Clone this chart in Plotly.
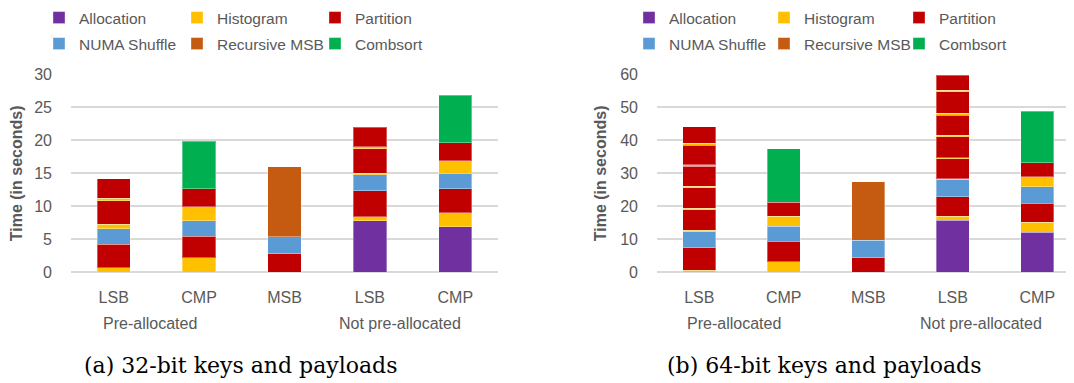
import plotly.graph_objects as go

# ---------------- data ----------------
POSITIONS = [0, 1, 2, 3, 4]
TICK_LABELS = ["LSB", "CMP", "MSB", "LSB", "CMP"]
GROUP_LABELS = ["Pre-allocated", "Not pre-allocated"]
CAPTIONS = ["(a) 32-bit keys and payloads", "(b) 64-bit keys and payloads"]

COLORS = {
    "Allocation": "#7030A0",
    "Histogram": "#FFC000",
    "Partition": "#C00000",
    "NUMA Shuffle": "#5B9BD5",
    "Recursive MSB": "#C55A11",
    "Combsort": "#00B050",
}

# (a) 32-bit keys and payloads -- segments stacked bottom to top
A_ALLOCATION = [None, None, None, 7.83, 6.92]
A_HISTOGRAM_1 = [0.66, 2.17, None, 0.61, 2.13]
A_PARTITION_1 = [3.59, 3.29, 2.78, 3.94, 3.64]
A_NUMA = [2.37, 2.37, 2.58, 2.38, 2.33]
A_HISTOGRAM_2 = [0.66, 2.13, None, 0.26, 1.87]
A_PARTITION_2 = [3.59, 2.73, None, 3.69, 2.73]
A_HISTOGRAM_3 = [0.33, None, None, 0.30, None]
A_PARTITION_3 = [3.00, None, None, 2.99, None]
A_RECURSIVE_MSB = [None, None, 10.62, None, None]
A_COMBSORT = [None, 7.19, None, None, 7.24]

# (b) 64-bit keys and payloads -- segments stacked bottom to top
B_ALLOCATION = [None, None, None, 15.74, 12.18]
B_HISTOGRAM_1 = [0.60, 3.25, None, 1.22, 2.95]
B_PARTITION_1 = [6.80, 6.10, 4.37, 5.89, 5.87]
B_NUMA = [4.87, 4.65, 5.38, 5.15, 5.00]
B_HISTOGRAM_2 = [0.53, 3.06, None, 0.40, 3.04]
B_PARTITION_2 = [6.10, 4.14, None, 6.00, 4.26]
B_HISTOGRAM_3 = [0.50, None, None, 0.40, None]
B_PARTITION_3 = [6.20, None, None, 6.30, None]
B_HISTOGRAM_4 = [0.50, None, None, 0.40, None]
B_PARTITION_4 = [6.10, None, None, 6.20, None]
B_HISTOGRAM_5 = [0.40, None, None, 0.50, None]
B_PARTITION_5 = [6.00, None, None, 6.60, None]
B_HISTOGRAM_6 = [0.60, None, None, 0.40, None]
B_PARTITION_6 = [4.90, None, None, 4.60, None]
B_RECURSIVE_MSB = [None, None, 17.65, None, None]
B_COMBSORT = [None, 16.30, None, None, 15.50]

PANEL_A = [
    ("Allocation", A_ALLOCATION), ("Histogram", A_HISTOGRAM_1), ("Partition", A_PARTITION_1),
    ("NUMA Shuffle", A_NUMA), ("Histogram", A_HISTOGRAM_2), ("Partition", A_PARTITION_2),
    ("Histogram", A_HISTOGRAM_3), ("Partition", A_PARTITION_3),
    ("Recursive MSB", A_RECURSIVE_MSB), ("Combsort", A_COMBSORT),
]
PANEL_B = [
    ("Allocation", B_ALLOCATION), ("Histogram", B_HISTOGRAM_1), ("Partition", B_PARTITION_1),
    ("NUMA Shuffle", B_NUMA), ("Histogram", B_HISTOGRAM_2), ("Partition", B_PARTITION_2),
    ("Histogram", B_HISTOGRAM_3), ("Partition", B_PARTITION_3),
    ("Histogram", B_HISTOGRAM_4), ("Partition", B_PARTITION_4),
    ("Histogram", B_HISTOGRAM_5), ("Partition", B_PARTITION_5),
    ("Histogram", B_HISTOGRAM_6), ("Partition", B_PARTITION_6),
    ("Recursive MSB", B_RECURSIVE_MSB), ("Combsort", B_COMBSORT),
]

ROW1 = {"Allocation", "Histogram", "Partition"}

# ---------------- figure ----------------
TEXT = "#595959"
GRID = "#d9d9d9"
FONT = "Liberation Sans"

fig = go.Figure()


def add_panel(segments, xa, ya, leg1, leg2):
    seen = set()
    for name, vals in segments:
        fig.add_trace(go.Bar(
            x=POSITIONS, y=vals, name=name,
            marker=dict(color=COLORS[name], line=dict(color="rgba(255,255,255,0.35)", width=1)),
            xaxis=xa, yaxis=ya,
            legend=leg1 if name in ROW1 else leg2,
            showlegend=name not in seen,
            legendgroup=xa + name,
            hoverinfo="name+y",
        ))
        seen.add(name)


add_panel(PANEL_A, "x", "y", "legend", "legend2")
add_panel(PANEL_B, "x2", "y2", "legend3", "legend4")

# page body has an 8px margin, so the figure is 8px smaller than the window
W, H = 1066, 375


def leg(x, y, ew):
    return dict(orientation="h", x=x, y=y, xanchor="left", yanchor="top",
                entrywidth=ew, entrywidthmode="pixels",
                font=dict(family=FONT, size=15.5, color=TEXT),
                bgcolor="rgba(0,0,0,0)", traceorder="normal",
                itemclick=False, itemdoubleclick=False)


xcommon = dict(tickmode="array", tickvals=POSITIONS, ticktext=TICK_LABELS,
               showgrid=False, zeroline=False, showline=False, ticks="",
               ticklabelstandoff=14, automargin=False,
               tickfont=dict(family=FONT, size=16, color=TEXT), fixedrange=True)
ycommon = dict(showgrid=True, gridcolor=GRID, gridwidth=1.5, zeroline=True,
               zerolinecolor=GRID, zerolinewidth=2, showline=False, ticks="",
               ticklabelstandoff=18, automargin=False,
               tickfont=dict(family=FONT, size=16, color=TEXT),
               title=dict(text="Time (in seconds)", standoff=9,
                          font=dict(family=FONT, size=16, color=TEXT, weight="bold")),
               fixedrange=True)

ydom = [1 - 264.3 / H, 1 - 66.5 / H]

annotations = []
for xref, xs in (("x", (0.43, 3.35)), ("x2", (0.41, 3.33))):
    for gx, label in zip(xs, GROUP_LABELS):
        annotations.append(dict(x=gx, y=1 - 315 / H, xref=xref, yref="paper",
                                text=label, showarrow=False, xanchor="center",
                                yanchor="middle",
                                font=dict(family=FONT, size=16, color=TEXT)))
for cx, cap in zip((232 / W, 816 / W), CAPTIONS):
    annotations.append(dict(x=cx, y=1 - 357 / H, xref="paper", yref="paper",
                            text=cap, showarrow=False, xanchor="center",
                            yanchor="middle",
                            font=dict(family="DejaVu Serif", size=22, color="#000000")))

fig.update_layout(
    width=W, height=H,
    margin=dict(l=0, r=0, t=0, b=0, autoexpand=False),
    paper_bgcolor="white", plot_bgcolor="white",
    barmode="stack", bargap=0.61,
    xaxis=dict(domain=[63 / W, 490 / W], range=[-0.5, 4.5], anchor="y", **xcommon),
    xaxis2=dict(domain=[649 / W, 1.0], range=[-0.5, 4.434], anchor="y2", **xcommon),
    yaxis=dict(domain=ydom, range=[0, 30], dtick=5, anchor="x", **ycommon),
    yaxis2=dict(domain=ydom, range=[0, 60], dtick=10, anchor="x2", **ycommon),
    legend=leg(31 / W, 1 + 7 / H, 93),
    legend2=leg(31 / W, 1 - 19 / H, 93),
    legend3=leg(621 / W, 1 + 7 / H, 90),
    legend4=leg(621 / W, 1 - 19 / H, 90),
    annotations=annotations,
    showlegend=True,
)

fig.write_html("out.html")
